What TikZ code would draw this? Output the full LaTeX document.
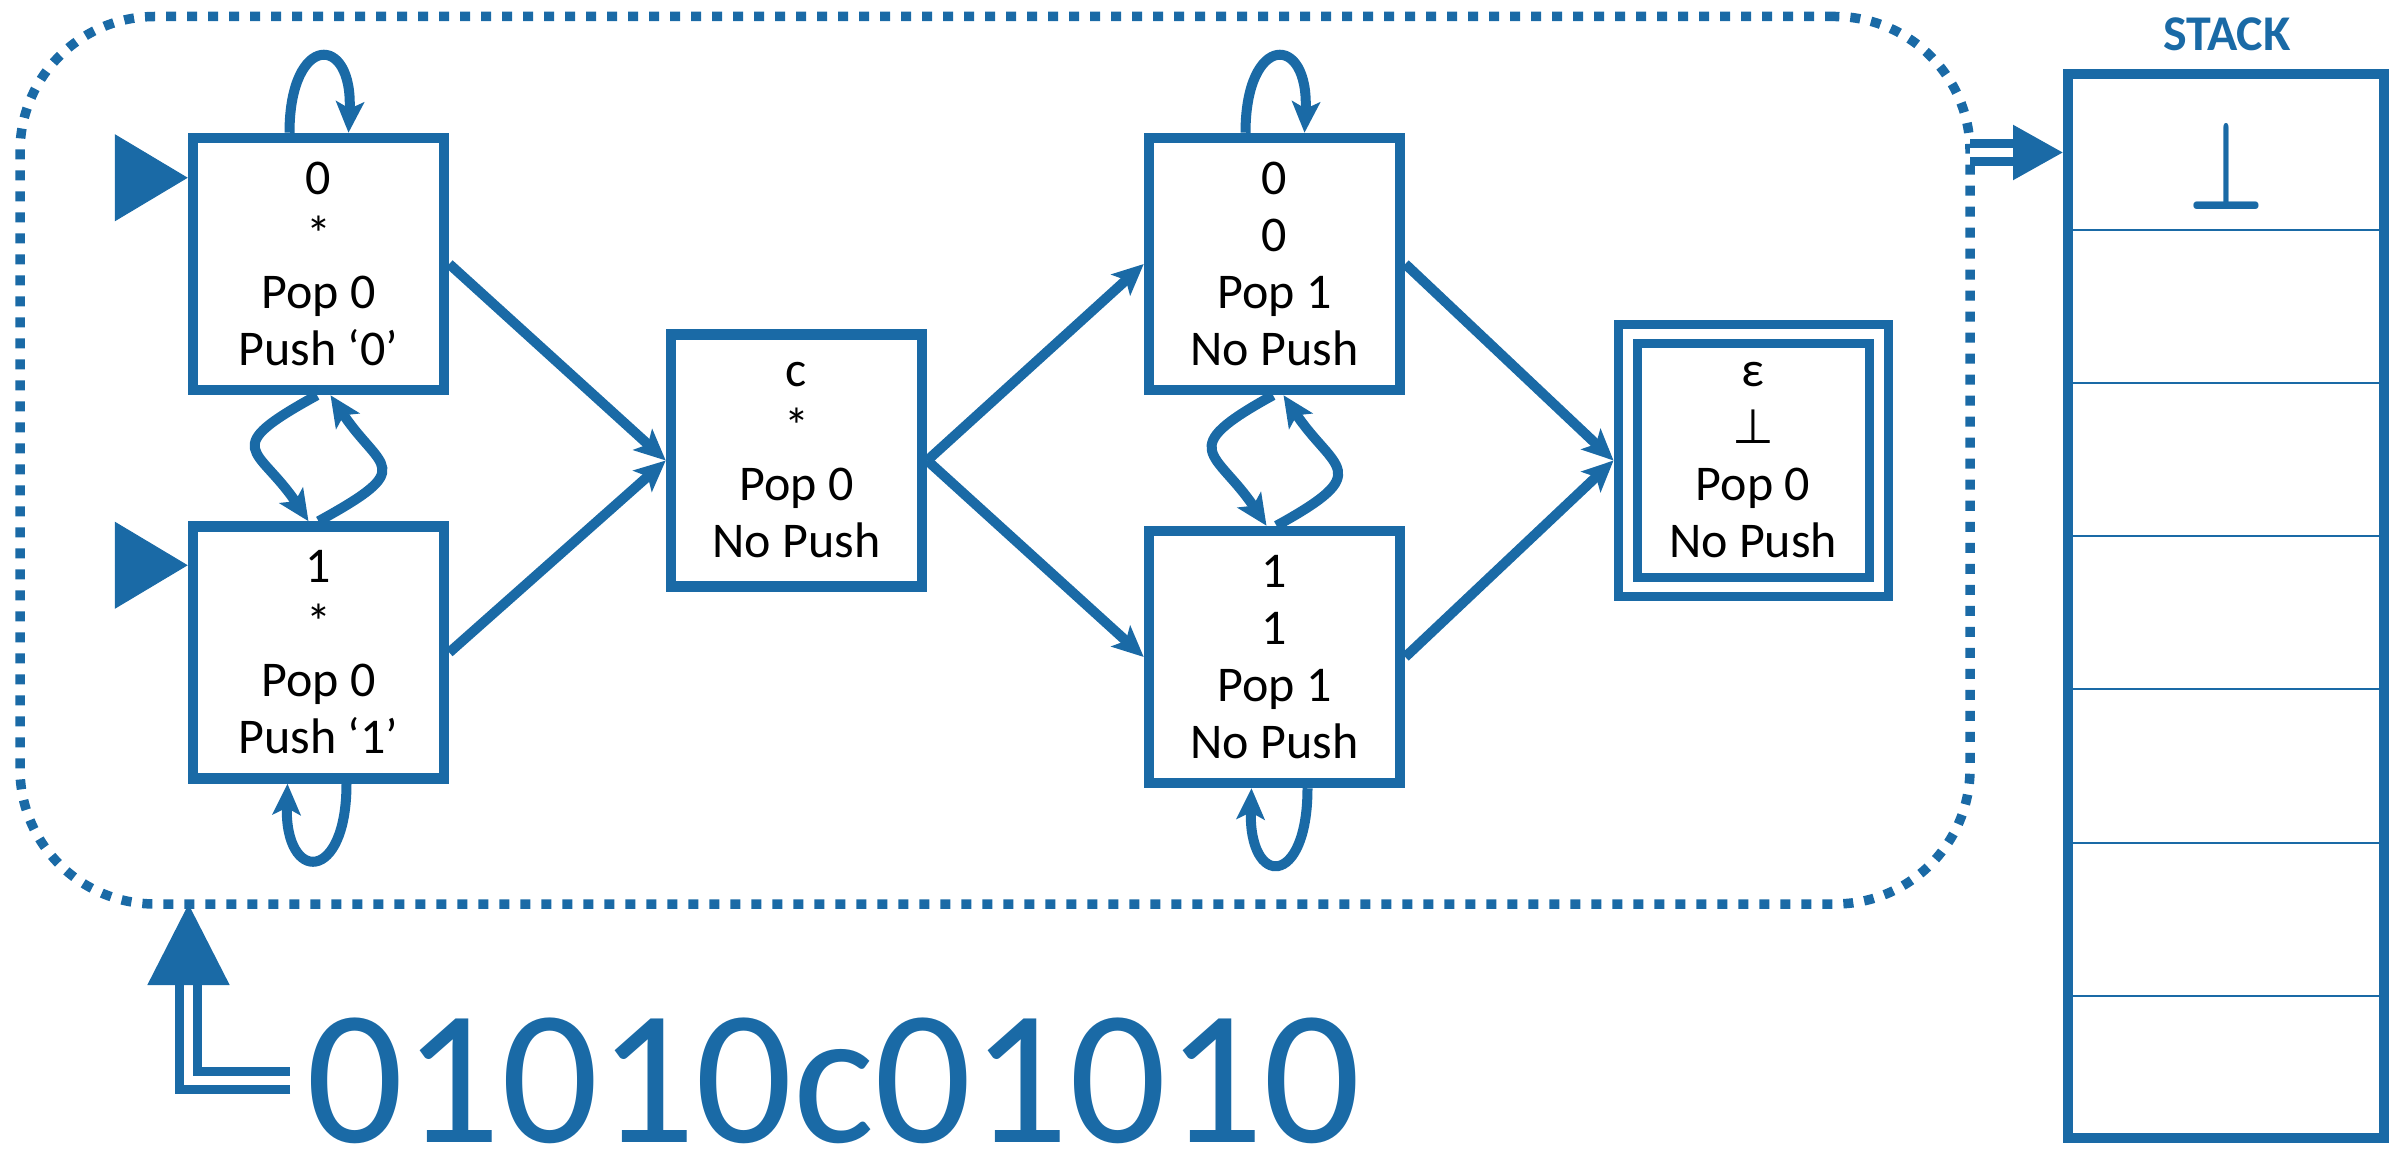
\documentclass[tikz,border=0pt]{standalone}
\usepackage{fontspec}
\setmainfont{Carlito}
\newfontfamily\symfont{DejaVu Sans}
\usetikzlibrary{arrows.meta, calc}
\definecolor{pdablue}{RGB}{26,106,166}

\begin{document}
\begin{tikzpicture}[x=0.5pt,y=0.5pt,yscale=-1,xscale=1,
  state/.style={draw=pdablue, line width=5.25pt, fill=white, minimum width=125.5pt, minimum height=126pt, inner sep=0pt, align=center, font=\fontsize{25pt}{28.5pt}\selectfont},
  accept/.style={state, double=white, double distance=5pt, line width=4.5pt, outer sep=7pt},
  trans/.style={draw=pdablue, line width=5pt, -{Stealth[length=15.5pt, width=14pt, inset=3.5pt]}},
  init/.style={draw=pdablue, line width=0.5pt, -{Triangle[length=36.5pt, width=43.5pt]}},
  feed/.style={draw=pdablue, double=white, line width=4.5pt, double distance=4.5pt},
  cellline/.style={draw=pdablue, line width=1pt}
]
\useasboundingbox (0,0) rectangle (2402,1154);

%Shape: Rounded Rect (the automaton)
\node[draw=pdablue, line width=4.75pt, dash pattern=on 5pt off 5.5pt, rounded corners=67.5pt, minimum width=975pt, minimum height=443.75pt, outer sep=0pt] (pda) at (995,460.25) {};

% States
\node[state] (q0) at (318.5,264) {0\\*\\Pop 0\\Push ‘0’};
\node[state] (q1) at (318.5,652.5) {1\\*\\Pop 0\\Push ‘1’};
\node[state] (qc) at (796.5,460.5) {c\\*\\Pop 0\\No Push};
\node[state] (q2) at (1274.5,264) {0\\0\\Pop 1\\No Push};
\node[state] (q3) at (1274.5,657) {1\\1\\Pop 1\\No Push};
\node[accept] (qf) at (1753,460.5) {ε\\{\symfont\fontsize{24pt}{24pt}\selectfont ⊥}\\Pop 0\\No Push};

%Initial arrows
\draw[init] ($(q0.north west)+(-73,45)$) -- ($(q0.north west)+(0,45)$);
\draw[init] ($(q1.north west)+(-73,44)$) -- ($(q1.north west)+(0,44)$);

%Straight Lines
\draw[trans] (q0.east) -- (qc.west);
\draw[trans] (q1.east) -- (qc.west);
\draw[trans] (qc.east) -- (q2.west);
\draw[trans] (qc.east) -- (q3.west);
\draw[trans] (q2.east) -- (qf.west);
\draw[trans] (q3.east) -- (qf.west);

%Curve Lines (self loops)
\draw[trans] ($(q0.north)+(-29,0)$) .. controls +(0,-100) and +(5,-100) .. ($(q0.north)+(30,0)$);
\draw[trans] ($(q2.north)+(-29,0)$) .. controls +(0,-100) and +(5,-100) .. ($(q2.north)+(30,0)$);
\draw[trans] ($(q1.south)+(28,0)$) .. controls +(0,100) and +(-3,100) .. ($(q1.south)+(-31,0)$);
\draw[trans] ($(q3.south)+(33,0)$) .. controls +(0,100) and +(-3,100) .. ($(q3.south)+(-23,0)$);

%Curve Lines (between the pairs)
\draw[trans] ($(q0.south)+(-1.5,0)$) .. controls +(-100,55) and +(-50,-75) .. ($(q1.north)+(-10,0)$);
\draw[trans] (q1.north) .. controls +(100,-55) and +(50,75) .. ($(q0.south)+(12,0)$);
\draw[trans] ($(q2.south)+(-1.5,0)$) .. controls +(-100,55) and +(-50,-75) .. ($(q3.north)+(-8,0)$);
\draw[trans] ($(q3.north)+(2,0)$) .. controls +(100,-55) and +(50,75) .. ($(q2.south)+(9,0)$);

%Shape: Rectangle (stack)
\node[draw=pdablue, line width=5pt, minimum width=158pt, minimum height=531.75pt, inner sep=0pt] (stack) at (2226,605.75) {};
\foreach \y in {230,383,536,689,843,996}
  \draw[cellline] (2068,\y) -- (2384,\y);

% Text Node
\node[anchor=base, text=pdablue, font=\bfseries\fontsize{25pt}{28pt}\selectfont] (stacklabel) at (2227,51) {STACK};
% Text Node
\node[text=pdablue, inner sep=0pt] (bot) at (2226,166) {\scalebox{4.25}[6.2]{\boldmath$\bot$}};
% Text Node
\node[anchor=base west, inner xsep=8pt, inner ysep=0pt, text=pdablue, font=\fontsize{96pt}{100pt}\selectfont] (word) at (290,1142) {01010c01010};

%Double arrows
\coordinate (feedin) at (188.5,904);
\coordinate (pin) at (0,152.5);
\draw[feed, -{Triangle[length=40.5pt, width=40pt]}] (word.west) -| (feedin);
\draw[feed, -{Triangle[length=25pt, width=26.5pt]}] (pda.east |- pin) -- (stack.west |- pin);

\end{tikzpicture}
\end{document}
